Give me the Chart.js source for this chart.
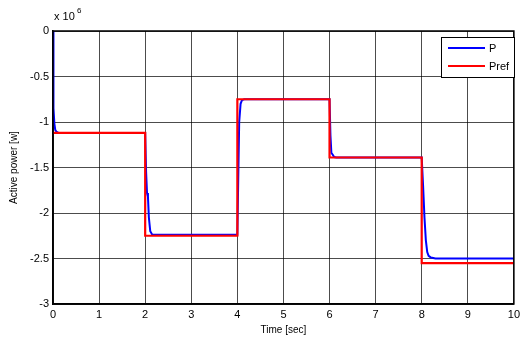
<!DOCTYPE html>
<html>
<head>
<meta charset="utf-8">
<script src="https://cdn.jsdelivr.net/npm/chart.js@4"></script>
<style>
html,body{margin:0;padding:0;background:#fff;}
#wrap{width:524px;height:339px;position:relative;}
</style>
</head>
<body>
<div id="wrap"><canvas id="c" width="524" height="339"></canvas></div>
<script>
// Values in units of 10^6 W
const pTime  = [0, 0.005, 0.015, 0.03, 0.05, 0.08, 0.12, 2.0, 2.02, 2.04, 2.06, 2.08, 2.11, 2.15, 2.25, 4.0, 4.02, 4.04, 4.07, 4.1, 4.15, 6.0, 6.02, 6.04, 6.07, 6.1, 6.15, 8.0, 8.03, 8.06, 8.09, 8.12, 8.15, 8.2, 8.3, 10];
const pValue = [0, -0.45, -0.85, -1.02, -1.09, -1.11, -1.12, -1.12, -1.55, -1.78, -1.82, -2.05, -2.2, -2.235, -2.24, -2.24, -1.6, -1.0, -0.8, -0.76, -0.75, -0.75, -1.15, -1.34, -1.36, -1.385, -1.39, -1.39, -1.7, -2.05, -2.3, -2.43, -2.47, -2.49, -2.5, -2.5];
const refTime  = [0, 2, 2, 4, 4, 6, 6, 8, 8, 10];
const refValue = [-1.12, -1.12, -2.25, -2.25, -0.75, -0.75, -1.39, -1.39, -2.55, -2.55];
const xTicks = [0, 1, 2, 3, 4, 5, 6, 7, 8, 9, 10];
const yTicks = [0, -0.5, -1, -1.5, -2, -2.5, -3];
const seriesNames = ['P', 'Pref'];

const FONT = '"Liberation Sans", Arial, sans-serif';

function pts(xs, ys){ return xs.map((x,i)=>({x:x, y:ys[i]})); }

const framePlugin = {
  id: 'frame',
  afterDraw(chart){
    const ctx = chart.ctx, a = chart.chartArea;
    ctx.save();
    ctx.strokeStyle = '#000';
    ctx.lineWidth = 1.5;
    ctx.strokeRect(a.left, a.top, a.right - a.left, a.bottom - a.top);
    // exponent label
    ctx.fillStyle = '#000';
    ctx.font = '11px ' + FONT;
    ctx.textBaseline = 'alphabetic';
    ctx.textAlign = 'left';
    ctx.fillText('x 10', 54, 20);
    ctx.font = '8px ' + FONT;
    ctx.fillText('6', 77, 13);
    // legend
    const lx = 441, ly = 37, lw = 73, lh = 40;
    ctx.fillStyle = '#fff';
    ctx.fillRect(lx, ly, lw, lh);
    ctx.strokeStyle = '#000';
    ctx.lineWidth = 1;
    ctx.strokeRect(lx + 0.5, ly + 0.5, lw, lh);
    chart.data.datasets.forEach((ds, i) => {
      const yy = ly + 11 + i * 18;
      ctx.strokeStyle = ds.borderColor;
      ctx.lineWidth = 2;
      ctx.beginPath();
      ctx.moveTo(448, yy);
      ctx.lineTo(485, yy);
      ctx.stroke();
      ctx.fillStyle = '#000';
      ctx.font = '11px ' + FONT;
      ctx.textBaseline = 'middle';
      ctx.fillText(ds.label, 489, yy + 1);
    });
    ctx.restore();
  }
};

new Chart(document.getElementById('c'), {
  type: 'line',
  data: {
    datasets: [
      { label: seriesNames[0], data: pts(pTime, pValue), borderColor: '#0000ff', borderWidth: 2, pointRadius: 0, tension: 0, order: 2 },
      { label: seriesNames[1], data: pts(refTime, refValue), borderColor: '#ff0000', borderWidth: 2.2, pointRadius: 0, tension: 0, order: 1 }
    ]
  },
  options: {
    responsive: false,
    animation: false,
    events: [],
    layout: { padding: { left: 0, right: 5, top: 31, bottom: 0 } },
    plugins: { legend: { display: false }, tooltip: { enabled: false } },
    scales: {
      x: {
        type: 'linear', min: 0, max: 10,
        afterFit(s){ s.height = 35; },
        afterBuildTicks(s){ s.ticks = xTicks.map(v=>({value:v})); },
        grid: { color: 'rgba(0,0,0,0.7)', lineWidth: 1, drawTicks: false },
        border: { display: true, color: '#000', width: 1.5 },
        ticks: { color: '#000', font: { family: FONT, size: 11 }, padding: 4, maxRotation: 0, callback: v => String(v) },
        title: { display: true, text: 'Time [sec]', color: '#000', font: { family: FONT, size: 10 }, padding: { top: 0, bottom: 3 } }
      },
      y: {
        type: 'linear', min: -3, max: 0,
        afterFit(s){ s.width = 53; },
        afterBuildTicks(s){ s.ticks = yTicks.map(v=>({value:v})); },
        grid: { color: 'rgba(0,0,0,0.7)', lineWidth: 1, drawTicks: false },
        border: { display: true, color: '#000', width: 1.5 },
        ticks: { color: '#000', font: { family: FONT, size: 11 }, padding: 4, callback: v => String(Math.round(v*10)/10) },
        title: { display: true, text: 'Active power [w]', color: '#000', font: { family: FONT, size: 10 }, padding: { top: 8, bottom: 0 } }
      }
    }
  },
  plugins: [framePlugin]
});
</script>
</body>
</html>
